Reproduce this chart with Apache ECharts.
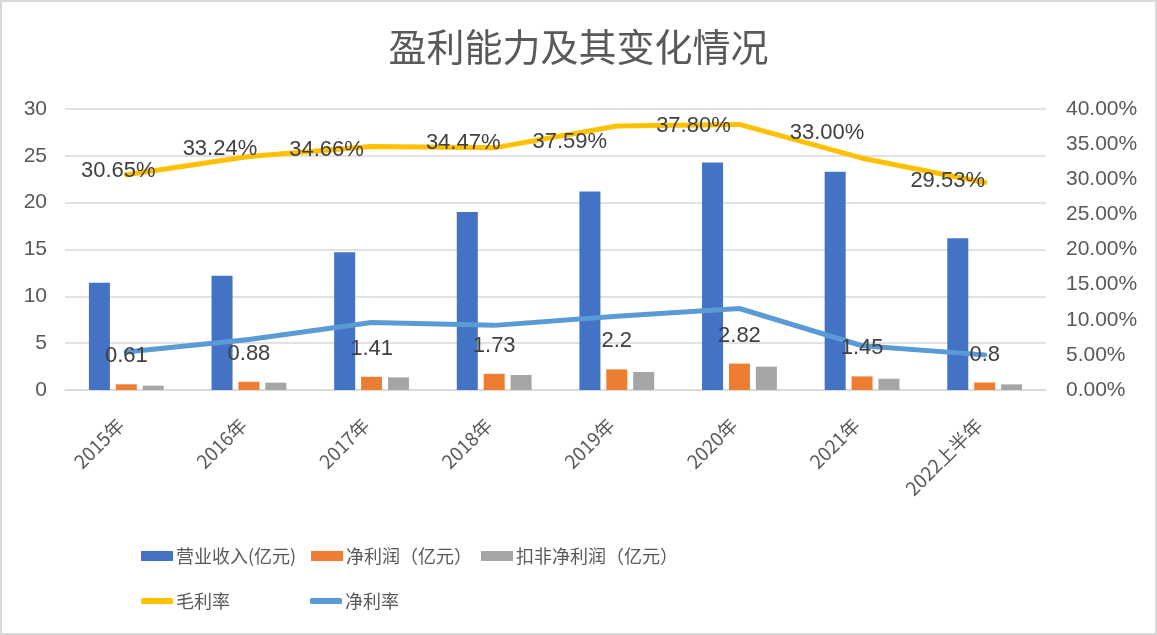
<!DOCTYPE html>
<html>
<head>
<meta charset="utf-8">
<script src="https://cdn.jsdelivr.net/npm/echarts@6/dist/echarts.min.js"></script>
<style>
    html, body { margin: 0; padding: 0; background: #fff; }
    #main { width: 1153px; height: 631px; border: 2px solid #d9d9d9; }
</style>
</head>
<body>
<div id="main"></div>
<script>
// 数据
let years = ['2015年', '2016年', '2017年', '2018年', '2019年', '2020年', '2021年', '2022上半年'];
let revenue = [11.45, 12.2, 14.7, 19.0, 21.2, 24.3, 23.3, 16.2];
let netProfit = [0.61, 0.88, 1.41, 1.73, 2.2, 2.82, 1.45, 0.8];
let deductedProfit = [0.46, 0.78, 1.35, 1.6, 1.92, 2.49, 1.2, 0.6];
let grossMargin = [30.65, 33.24, 34.66, 34.47, 37.59, 37.80, 33.00, 29.53];
let netMargin = [5.4, 7.2, 9.6, 9.2, 10.5, 11.6, 6.3, 5.0];

// 毛利率标签偏移 (仿Excel手动摆放)
let gmLabelOffset = [[-8, -4], [-29, -8], [-45, 3], [-31, -5], [-47, 16], [-46, 1], [-35, -25], [-37, -2]];

let textColor = '#595959';
let labelColor = '#404040';
let numFont = "'Liberation Sans', 'Noto Sans CJK SC', sans-serif";
let cjkFont = "'Noto Sans CJK SC', sans-serif";

let chart = echarts.init(document.getElementById('main'));

// 图例: 手动对齐成两行三列
function legendItem(name, left, top, isLine) {
    return {
        data: [{ name: name, icon: isLine ? 'roundRect' : 'rect' }],
        left: left,
        top: top,
        padding: 0,
        itemWidth: 32,
        itemHeight: isLine ? 6 : 10,
        itemGap: 4,
        textStyle: { color: textColor, fontSize: 18, fontFamily: cjkFont, padding: [0, 0, 0, -2] }
    };
}

let option = {
    animation: false,
    title: {
        text: '盈利能力及其变化情况',
        left: 'center',
        top: 21,
        textStyle: { color: textColor, fontSize: 38, fontWeight: 'normal', fontFamily: cjkFont }
    },
    legend: [
        legendItem('营业收入(亿元)', 139, 545, false),
        legendItem('净利润（亿元）', 309, 545, false),
        legendItem('扣非净利润（亿元）', 479, 545, false),
        legendItem('毛利率', 139, 590, true),
        legendItem('净利率', 308, 590, true)
    ],
    grid: { left: 63, right: 109, top: 107, bottom: 243 },
    xAxis: {
        type: 'category',
        data: years,
        axisLine: { lineStyle: { color: '#d9d9d9', width: 1.5 } },
        axisTick: { show: false },
        axisLabel: {
            interval: 0,
            rotate: 45,
            margin: 26,
            padding: [0, 8, 0, 0],
            color: textColor,
            fontSize: 19,
            fontFamily: cjkFont
        }
    },
    yAxis: [
        {
            type: 'value',
            min: 0, max: 30, interval: 5,
            axisLine: { show: false },
            axisTick: { show: false },
            splitLine: { lineStyle: { color: '#d9d9d9', width: 1.5 } },
            axisLabel: { color: textColor, fontSize: 21, margin: 18, fontFamily: numFont }
        },
        {
            type: 'value',
            min: 0, max: 40, interval: 5,
            axisLine: { show: false },
            axisTick: { show: false },
            splitLine: { show: false },
            axisLabel: {
                color: textColor, fontSize: 21, margin: 20, fontFamily: numFont,
                formatter: function (v) { return v.toFixed(2) + '%'; }
            }
        }
    ],
    series: [
        {
            name: '营业收入(亿元)',
            type: 'bar',
            data: revenue,
            barGap: '28%',
            barCategoryGap: '39%',
            itemStyle: { color: '#4472C4' }
        },
        {
            name: '净利润（亿元）',
            type: 'bar',
            data: netProfit,
            itemStyle: { color: '#ED7D31' },
            label: {
                show: true,
                position: 'top',
                distance: 17,
                color: labelColor,
                fontSize: 22,
                fontFamily: numFont
            },
            z: 5
        },
        {
            name: '扣非净利润（亿元）',
            type: 'bar',
            data: deductedProfit,
            itemStyle: { color: '#A5A5A5' }
        },
        {
            name: '毛利率',
            type: 'line',
            yAxisIndex: 1,
            data: grossMargin.map(function (v, i) {
                return { value: v, label: { offset: gmLabelOffset[i] } };
            }),
            symbol: 'circle',
            symbolSize: 1,
            lineStyle: { color: '#FFC000', width: 5, cap: 'round', join: 'round' },
            itemStyle: { color: '#FFC000' },
            label: {
                show: true,
                position: 'inside',
                color: labelColor,
                fontSize: 22,
                fontFamily: numFont,
                formatter: function (p) { return p.value.toFixed(2) + '%'; }
            },
            z: 4
        },
        {
            name: '净利率',
            type: 'line',
            yAxisIndex: 1,
            data: netMargin,
            symbol: 'none',
            lineStyle: { color: '#5B9BD5', width: 5, cap: 'round', join: 'round' },
            itemStyle: { color: '#5B9BD5' },
            z: 3
        }
    ]
};

chart.setOption(option);
</script>
</body>
</html>
